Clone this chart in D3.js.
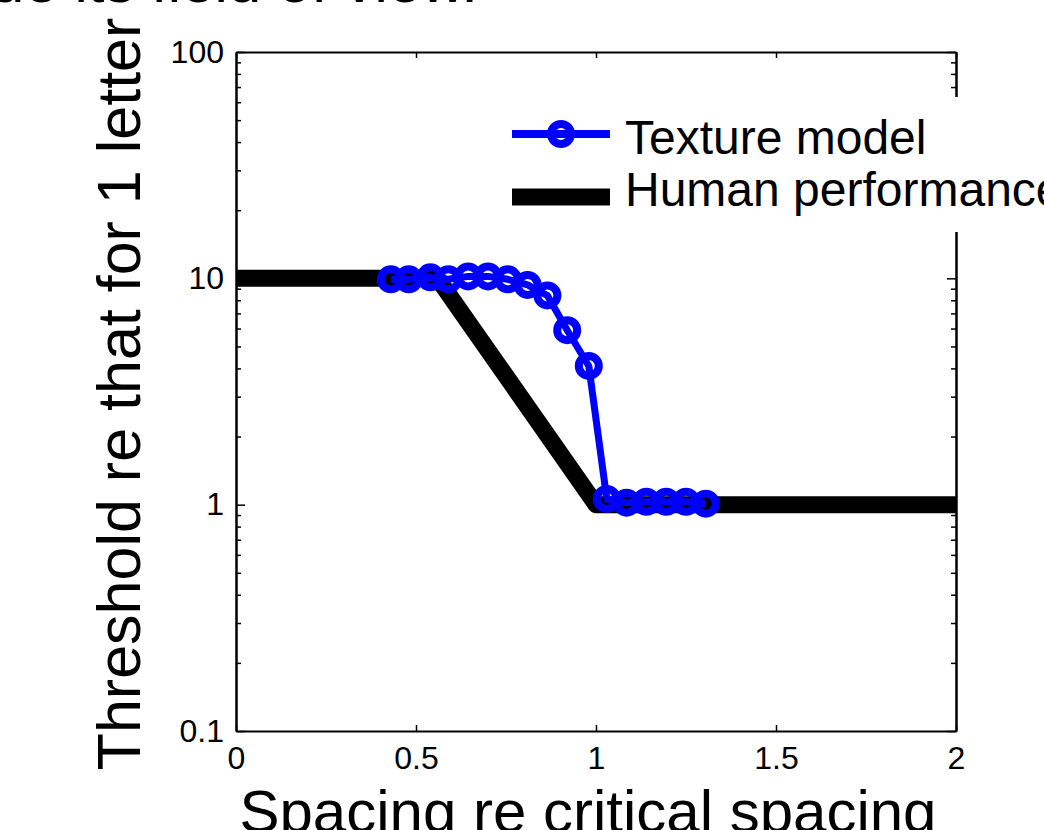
<!DOCTYPE html>
<html>
<head>
<meta charset="utf-8">
<script src="https://cdn.jsdelivr.net/npm/d3@7"></script>
<style>
  html, body { margin: 0; padding: 0; background: #fff; }
  svg { display: block; font-family: 'Liberation Sans', Arial, sans-serif; }
</style>
</head>
<body>
<svg id="chart" width="1044" height="830"></svg>
<script>
// texture model points (spacing re critical spacing, threshold re 1 letter)
const textureX = [0.43, 0.48, 0.54, 0.59, 0.645, 0.70, 0.755, 0.81, 0.865, 0.92, 0.98, 1.03, 1.085, 1.14, 1.195, 1.25, 1.305]
const textureY = [9.9, 9.9, 10.1, 9.9, 10.2, 10.2, 9.9, 9.35, 8.4, 5.9, 4.1, 1.06, 1.02, 1.03, 1.03, 1.03, 1.01]

// human performance: flat, falling, flat
const humanX = [0, 0.56, 1.0, 2]
const humanY = [10, 10, 1, 1]

const xTicks = [0, 0.5, 1, 1.5, 2]
const xTickLabels = ['0', '0.5', '1', '1.5', '2']
const yTicks = [0.1, 1, 10, 100]
const yTickLabels = ['0.1', '1', '10', '100']

const legendLabels = ['Texture model', 'Human performance']

let svg = d3.select('#chart')

let margin = { left: 236, right: 956, top: 52, bottom: 731 }

let x = d3.scaleLinear()
  .domain([0, 2])
  .range([margin.left, margin.right])

let y = d3.scaleLog()
  .domain([0.1, 100])
  .range([margin.bottom, margin.top])

// slide title remnant at the very top
svg.append('text')
    .attr('x', 478)
    .attr('y', 2)
    .attr('text-anchor', 'end')
    .style('font-size', '60px')
    .text('ue its field of view.')

let minorTicks = y.ticks().filter(d => yTicks.indexOf(d) < 0)

// bottom / top axes, ticks inside
svg.append('g')
    .attr('class', 'axis x-bottom')
    .attr('transform', `translate(0,${ margin.bottom })`)
    .call(d3.axisBottom(x)
      .tickValues(xTicks)
      .tickSize(-6)
      .tickSizeOuter(0)
      .tickPadding(15)
      .tickFormat((d, i) => xTickLabels[i]))

svg.append('g')
    .attr('class', 'axis x-top')
    .attr('transform', `translate(0,${ margin.top })`)
    .call(d3.axisTop(x)
      .tickValues(xTicks)
      .tickSize(-6)
      .tickSizeOuter(0)
      .tickFormat(''))

// left / right axes, major and minor
svg.append('g')
    .attr('class', 'axis y-left')
    .attr('transform', `translate(${ margin.left },0)`)
    .call(d3.axisLeft(y)
      .tickValues(yTicks)
      .tickSize(-9)
      .tickSizeOuter(0)
      .tickPadding(12)
      .tickFormat((d, i) => yTickLabels[i]))

svg.append('g')
    .attr('class', 'axis y-left-minor')
    .attr('transform', `translate(${ margin.left },0)`)
    .call(d3.axisLeft(y)
      .tickValues(minorTicks)
      .tickSize(-5)
      .tickSizeOuter(0)
      .tickFormat(''))

svg.append('g')
    .attr('class', 'axis y-right')
    .attr('transform', `translate(${ margin.right },0)`)
    .call(d3.axisRight(y)
      .tickValues(yTicks)
      .tickSize(-9)
      .tickSizeOuter(0)
      .tickFormat(''))

svg.append('g')
    .attr('class', 'axis y-right-minor')
    .attr('transform', `translate(${ margin.right },0)`)
    .call(d3.axisRight(y)
      .tickValues(minorTicks)
      .tickSize(-5)
      .tickSizeOuter(0)
      .tickFormat(''))

svg.selectAll('.axis path.domain')
    .style('stroke', '#000')
    .style('stroke-width', 2)

svg.selectAll('.axis .tick line')
    .style('stroke', '#000')
    .style('stroke-width', 1.5)

svg.selectAll('.axis text')
    .style('font-size', '32px')
    .style('font-family', "'Liberation Sans', Arial, sans-serif")
    .style('fill', '#000')

// human performance
let humanLine = d3.line()
  .x((d, i) => x(humanX[i]))
  .y(d => y(d))

svg.append('path')
    .datum(humanY)
    .attr('d', humanLine)
    .style('fill', 'none')
    .style('stroke', '#000')
    .style('stroke-width', 17)
    .style('stroke-linejoin', 'round')

// texture model
let textureLine = d3.line()
  .x((d, i) => x(textureX[i]))
  .y(d => y(d))

svg.append('path')
    .datum(textureY)
    .attr('d', textureLine)
    .style('fill', 'none')
    .style('stroke', '#0000ff')
    .style('stroke-width', 7)
    .style('stroke-linejoin', 'round')

svg.append('g')
    .attr('class', 'markers')
  .selectAll('circle')
    .data(textureY)
  .enter().append('circle')
    .attr('cx', (d, i) => x(textureX[i]))
    .attr('cy', d => y(d))
    .attr('r', 10)
    .style('fill', 'none')
    .style('stroke', '#0000ff')
    .style('stroke-width', 8)

// legend, white box over the right axis
let legend = svg.append('g')
    .attr('class', 'legend')

legend.append('rect')
    .attr('x', 500)
    .attr('y', 97)
    .attr('width', 560)
    .attr('height', 135)
    .style('fill', '#fff')

legend.append('line')
    .attr('x1', 512).attr('x2', 610)
    .attr('y1', 134).attr('y2', 134)
    .style('stroke', '#0000ff')
    .style('stroke-width', 8)

legend.append('circle')
    .attr('cx', 561)
    .attr('cy', 134)
    .attr('r', 10)
    .style('fill', 'none')
    .style('stroke', '#0000ff')
    .style('stroke-width', 8)

legend.append('line')
    .attr('x1', 512).attr('x2', 610)
    .attr('y1', 197).attr('y2', 197)
    .style('stroke', '#000')
    .style('stroke-width', 17)

legend.selectAll('text')
    .data(legendLabels)
  .enter().append('text')
    .attr('x', 625)
    .attr('y', (d, i) => i ? 206 : 154)
    .style('font-size', '48px')
    .style('fill', '#000')
    .text(d => d)

// axis titles
svg.append('text')
    .attr('transform', 'translate(140,394) rotate(-90)')
    .attr('text-anchor', 'middle')
    .style('font-size', '61px')
    .text('Threshold re that for 1 letter')

svg.append('text')
    .attr('x', 588)
    .attr('y', 832)
    .attr('text-anchor', 'middle')
    .style('font-size', '60px')
    .text('Spacing re critical spacing')
</script>
</body>
</html>
